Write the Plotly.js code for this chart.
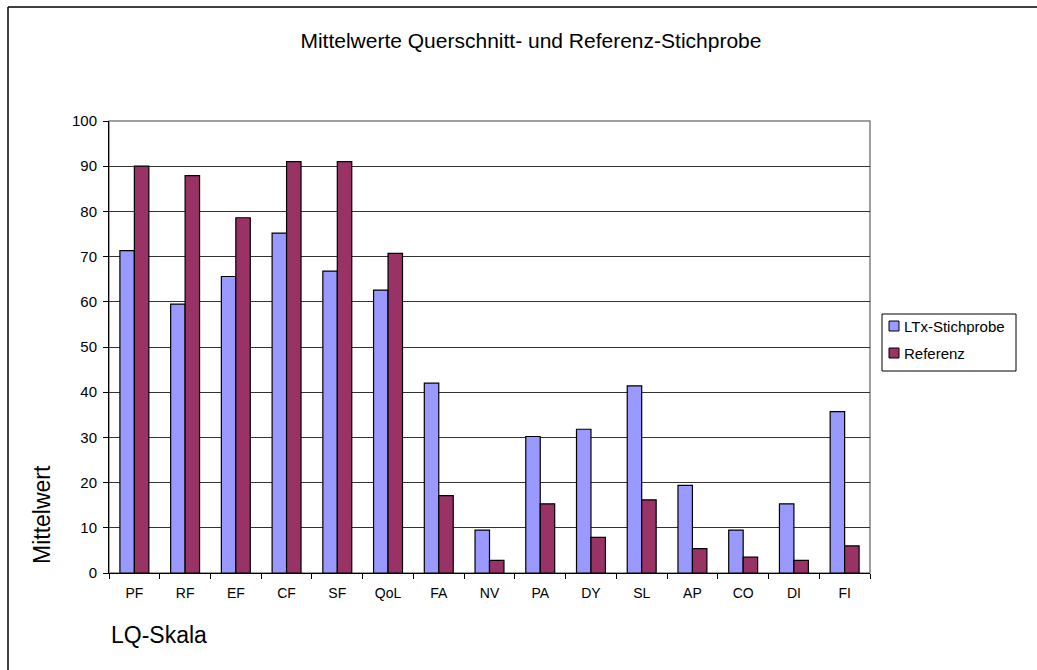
<!DOCTYPE html>
<html>
<head>
<meta charset="utf-8">
<script src="https://cdn.plot.ly/plotly-3.0.1.min.js"></script>
<style>html,body{margin:0;padding:0;background:#fff;}#chart{width:1037px;height:670px;}</style>
</head>
<body>
<div id="chart"></div>
<script>
const categories = ["PF","RF","EF","CF","SF","QoL","FA","NV","PA","DY","SL","AP","CO","DI","FI"];
const ltxValues = [71.3, 59.5, 65.6, 75.2, 66.8, 62.6, 42.0, 9.5, 30.2, 31.8, 41.4, 19.4, 9.5, 15.3, 35.7];
const refValues = [90.0, 87.9, 78.6, 91.0, 91.0, 70.7, 17.1, 2.8, 15.3, 7.9, 16.2, 5.4, 3.5, 2.8, 6.0];
const yTicks = [0,10,20,30,40,50,60,70,80,90,100];
const seriesNames = ["LTx-Stichprobe", "Referenz"];
const seriesColors = ["#9999FF", "#993366"];

const font = "Liberation Sans, Arial, sans-serif";
const traces = [
  {type:"bar", name:seriesNames[0], x:categories, y:ltxValues,
   marker:{color:seriesColors[0], line:{color:"#000", width:1.2}}},
  {type:"bar", name:seriesNames[1], x:categories, y:refValues,
   marker:{color:seriesColors[1], line:{color:"#000", width:1.2}}}
];

// pixel -> paper helpers (plot area 109..870 x, 121..573 y)
const px = v => (v - 109) / 761;
const py = v => (573 - v) / 452;

const legendShapes = [
  {type:"rect", xref:"paper", yref:"paper", x0:px(882), x1:px(1016), y0:py(314), y1:py(371),
   line:{color:"#000", width:1}, fillcolor:"#fff"}
];
const legendAnn = [];
const rowY = [326, 353];
seriesNames.forEach((n, i) => {
  legendShapes.push({type:"rect", xref:"paper", yref:"paper", x0:px(889), x1:px(899), y0:py(rowY[i]-5), y1:py(rowY[i]+5),
    line:{color:"#000", width:1}, fillcolor:seriesColors[i]});
  legendAnn.push({text:n, xref:"paper", yref:"paper", x:px(902), y:py(rowY[i]), showarrow:false,
    xanchor:"left", yanchor:"middle", font:{size:15, family:font}});
});

const layout = {
  width:1037, height:670,
  margin:{l:109, r:167, t:121, b:97},
  paper_bgcolor:"#fff", plot_bgcolor:"#fff",
  font:{family:font, color:"#000", size:14},
  barmode:"group", bargap:0.43, bargroupgap:0,
  showlegend:false,
  xaxis:{type:"category", tickson:"boundaries", ticks:"outside", ticklen:5, tickcolor:"#000",
    showline:true, linecolor:"#000", linewidth:1, showgrid:false, tickfont:{size:14, family:font},
    range:[-0.5,14.5], fixedrange:true, ticklabelstandoff:7},
  yaxis:{range:[0,100], tickvals:yTicks, ticks:"outside", ticklen:5, tickcolor:"#000",
    showline:true, linecolor:"#000", linewidth:1, showgrid:true, gridcolor:"#333", gridwidth:1,
    zeroline:false, tickfont:{size:15, family:font}, ticklabelstandoff:3},
  title:{text:"Mittelwerte Querschnitt- und Referenz-Stichprobe", x:0.512, xanchor:"center", y:0.94, yanchor:"middle",
    font:{size:21, family:font}},
  annotations:[
    {text:"Mittelwert", xref:"paper", yref:"paper", x:px(42), y:py(515), textangle:-90, showarrow:false,
     font:{size:23, family:font}, xanchor:"center", yanchor:"middle"},
    {text:"LQ-Skala", xref:"paper", yref:"paper", x:px(109), y:py(635), showarrow:false,
     font:{size:23, family:font}, xanchor:"left", yanchor:"middle"}
  ].concat(legendAnn),
  shapes:[
    {type:"rect", xref:"paper", yref:"paper", x0:0, x1:1, y0:0, y1:1, line:{color:"#808080", width:1.5}, layer:"below"},
    {type:"line", xref:"paper", yref:"paper", x0:px(8), x1:px(8), y0:py(7), y1:py(700), line:{color:"#000", width:1.5}},
    {type:"line", xref:"paper", yref:"paper", x0:px(8), x1:px(1100), y0:py(7), y1:py(7), line:{color:"#000", width:1.5}}
  ].concat(legendShapes)
};
Plotly.newPlot("chart", traces, layout, {displayModeBar:false, staticPlot:true});
</script>
</body>
</html>
